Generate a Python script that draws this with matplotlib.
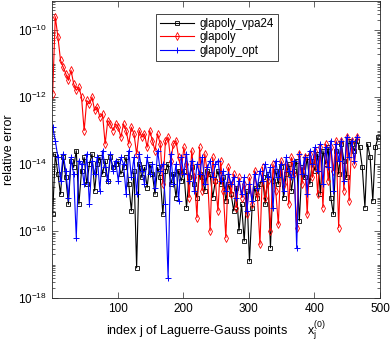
import numpy as np
import matplotlib
matplotlib.use('Agg')
import matplotlib.pyplot as plt
from matplotlib.ticker import LogLocator, NullFormatter, FixedLocator

plt.rcParams['font.family'] = ['Liberation Sans', 'DejaVu Sans']
plt.rcParams['mathtext.default'] = 'regular'

# index j (every 4th Laguerre-Gauss point)
j_black = np.arange(1, 501, 4)
j_rb = np.arange(1, 467, 4)

# log10 of relative error
log_vpa24 = [
    -15.5, -13.7, -14.3, -14.9, -13.8, -14.4, -15.2, -13.9, -14.1, -13.6,
    -15.2, -14.2, -13.8, -14.6, -14.0, -13.7, -14.8, -14.0, -13.8, -14.3,
    -13.9, -14.5, -13.8, -14.1, -14.0,
    -13.9, -14.3, -14.1, -13.8, -14.6, -15.4, -14.2, -17.1, -14.0, -14.4,
    -14.1, -14.7, -14.0, -14.3, -14.9, -14.1, -14.4, -15.5, -14.2, -14.0,
    -14.6, -14.3, -15.0, -14.2, -14.5,
    -14.2, -15.3, -14.4, -14.1, -14.6, -15.0, -14.3, -14.4, -14.8, -14.2,
    -14.3, -15.0, -14.5, -14.2, -14.6, -14.4, -15.1, -14.6, -14.9, -15.4,
    -14.7, -16.0, -15.2, -16.3, -14.8,
    -16.9, -15.3, -14.7, -15.0, -14.6, -14.4, -15.2, -14.3, -16.5, -14.5,
    -14.2, -14.6, -14.1, -15.0, -14.3, -14.0, -14.8, -14.2, -13.9, -15.7,
    -14.1, -14.4, -13.8, -14.6, -13.9,
    -14.2, -13.7, -14.9, -13.6, -14.0, -13.5, -15.0, -15.5, -13.6, -14.3,
    -13.4, -13.9, -14.4, -13.3, -13.4, -13.6, -13.3, -13.5, -14.1, -15.3,
    -13.4, -13.8, -15.1, -13.5, -13.2,
]

log_glapoly = [
    -11.9, -9.6, -10.2, -10.9, -11.1, -11.3, -11.5, -11.2, -11.6, -11.8,
    -11.7, -12.0, -13.0, -12.1, -12.2, -12.0, -12.4, -12.3, -12.6, -12.5,
    -13.4, -12.7, -12.8, -13.0, -12.8,
    -12.9, -13.2, -12.8, -13.0, -13.4, -12.9, -13.1, -13.7, -13.0, -13.2,
    -13.1, -13.5, -13.0, -13.3, -13.6, -13.1, -13.4, -14.6, -13.3, -13.2,
    -13.9, -13.4, -13.3, -13.8, -14.2,
    -13.5, -14.0, -15.0, -13.6, -14.4, -15.6, -13.5, -14.8, -13.7, -14.3,
    -16.0, -13.8, -14.5, -15.4, -13.9, -14.8, -16.2, -14.1, -14.9, -14.3,
    -15.3, -14.4, -15.0, -14.6, -15.5,
    -14.4, -15.2, -14.2, -14.9, -16.4, -14.1, -15.0, -14.5, -16.0, -14.0,
    -14.8, -15.8, -13.9, -14.6, -14.0, -15.2, -13.8, -14.3, -15.9, -13.7,
    -14.6, -13.8, -15.5, -13.7, -14.4,
    -13.6, -14.9, -13.5, -15.3, -13.4, -14.5, -13.5, -14.2, -13.3, -15.9,
    -13.3, -14.8, -13.2, -15.1, -13.3, -14.0, -13.2,
]

log_opt = [
    -12.9, -13.3, -13.8, -14.5, -13.7, -14.2, -15.0, -13.8, -14.3, -16.2,
    -13.9, -14.0, -14.6, -13.7, -15.2, -13.9, -14.3, -13.8, -14.8, -13.6,
    -14.1, -14.5, -13.7, -14.2, -13.9,
    -14.5, -13.8, -14.0, -14.9, -13.6, -14.4, -13.8, -14.9, -13.7, -14.2,
    -14.6, -13.8, -14.3, -14.0, -14.7, -13.6, -14.2, -14.0, -15.2, -17.4,
    -13.7, -14.6, -14.0, -15.1, -13.8,
    -14.3, -13.7, -14.5, -13.9, -14.8, -14.0, -14.3, -13.8, -14.6, -14.1,
    -13.9, -14.4, -14.0, -13.9, -14.5, -14.2, -14.8, -14.3, -14.6, -14.4,
    -15.0, -14.5, -14.9, -14.4, -15.4,
    -14.6, -15.1, -14.3, -14.7, -14.2, -14.5, -14.0, -14.4, -14.1, -15.3,
    -13.9, -14.4, -14.0, -14.8, -13.8, -14.2, -14.4, -13.9, -16.5, -13.7,
    -14.3, -13.8, -14.9, -13.6, -14.0,
    -13.5, -14.2, -13.4, -14.6, -13.5, -14.1, -13.3, -14.8, -13.4, -13.9,
    -13.3, -14.5, -13.2, -13.8, -13.3, -13.9, -13.2,
]

fig = plt.figure(figsize=(3.9, 3.43), dpi=100)
ax = fig.add_axes([52 / 390, 1 - 298 / 343, 328 / 390, 297 / 343])

ax.semilogy(j_black, 10.0 ** np.array(log_vpa24), '-s', color='black', lw=0.8,
            ms=3.2, mfc='none', mew=0.6, label='glapoly_vpa24')
ax.semilogy(j_rb, 10.0 ** np.array(log_glapoly), '-d', color='red', lw=0.8,
            ms=4, mfc='none', mew=0.6, label='glapoly')
ax.semilogy(j_rb, 10.0 ** np.array(log_opt), '-+', color='blue', lw=0.8,
            ms=4.5, mew=0.7, label='glapoly_opt')

ax.set_xlim(0, 500)
ax.set_ylim(1e-18, 10 ** -9.13)
ax.xaxis.set_major_locator(FixedLocator([100, 200, 300, 400, 500]))
ax.xaxis.set_minor_locator(FixedLocator([]))
ax.yaxis.set_major_locator(FixedLocator([1e-18, 1e-16, 1e-14, 1e-12, 1e-10]))
ax.yaxis.set_minor_locator(LogLocator(base=10, subs=np.arange(1, 10), numticks=30))
ax.yaxis.set_minor_formatter(NullFormatter())
ax.set_yticklabels(['10$^{-18}$', '10$^{-16}$', '10$^{-14}$', '10$^{-12}$', '10$^{-10}$'])
ax.tick_params(which='both', direction='in', top=True, right=True, labelsize=8.5,
               width=0.5, color='#262626')
ax.tick_params(which='major', length=4)
ax.tick_params(which='minor', length=2)
for s in ax.spines.values():
    s.set_linewidth(0.6)
    s.set_color('#262626')

ax.set_xlabel('index j of Laguerre-Gauss points      x$_j^{(0)}$', fontsize=9, labelpad=3)
ax.set_ylabel('relative error', fontsize=9, labelpad=2)

leg = ax.legend(loc='upper left', bbox_to_anchor=(0.30, 0.975), fontsize=8.3,
                fancybox=False, edgecolor='#262626', framealpha=1,
                handlelength=3, borderpad=0.3, labelspacing=0.15, handletextpad=0.5)
leg.get_frame().set_linewidth(0.6)

fig.savefig('out.png', dpi=100)
